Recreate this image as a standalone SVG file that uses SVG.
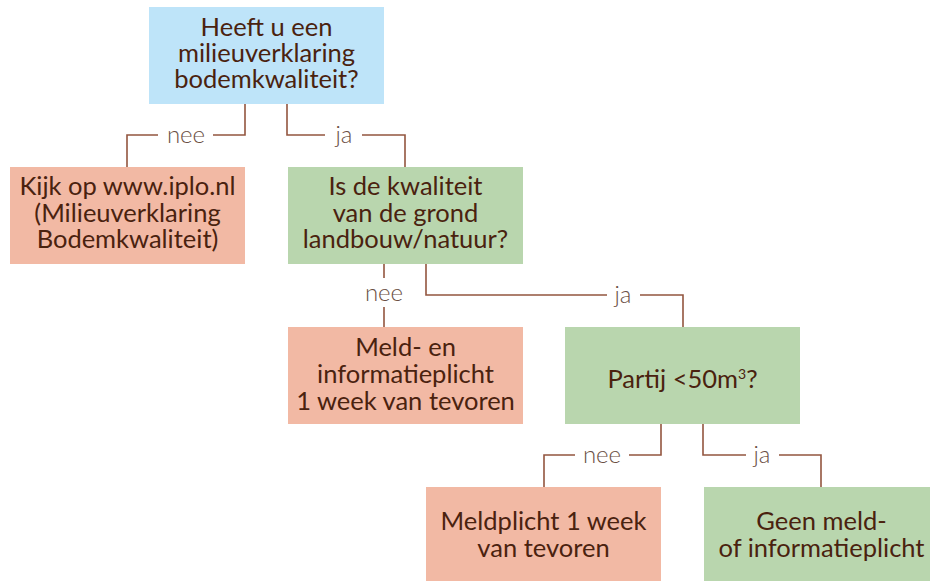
<svg xmlns="http://www.w3.org/2000/svg" width="930" height="581" viewBox="0 0 930 581">
<style>
.blue{fill:#bee4f9}
.red{fill:#f2b9a4}
.green{fill:#b9d6ae}
.t{font-family:Lato,"Open Sans",sans-serif;font-size:25.5px;fill:#4a220f;text-anchor:middle}
.l{font-family:Lato,"Open Sans",sans-serif;font-size:24px;fill:#6b4f44;text-anchor:middle;font-weight:300}
.c{fill:none;stroke:#93553f;stroke-width:1.6}
</style>
<rect width="930" height="581" fill="#ffffff"/>
<g id="connectors">
<path class="c" d="M245,104 V135 H213 M158,135 H127 V167"/>
<path class="c" d="M287,104 V135 H325 M362,135 H405 V167"/>
<path class="c" d="M384,264 V278 M384,307 V327"/>
<path class="c" d="M426,264 V295 H607 M640,295 H683 V327"/>
<path class="c" d="M661,424 V455 H629 M575,455 H544 V487"/>
<path class="c" d="M703,424 V455 H746 M779,455 H821 V487"/>
<text class="l" x="186" y="143">nee</text>
<text class="l" x="344" y="143">ja</text>
<text class="l" x="384" y="301">nee</text>
<text class="l" x="623" y="303">ja</text>
<text class="l" x="602" y="463">nee</text>
<text class="l" x="762" y="463">ja</text>
</g>
<g id="n1">
<rect class="blue" x="149" y="7" width="235" height="97"/>
<text class="t" x="266.5" y="36">Heeft u een</text>
<text class="t" x="266.5" y="62">milieuverklaring</text>
<text class="t" x="266.5" y="88">bodemkwaliteit?</text>
</g>
<g id="n2">
<rect class="red" x="10" y="167" width="235" height="97"/>
<text class="t" x="127.5" y="195">Kijk op www.iplo.nl</text>
<text class="t" x="127.5" y="222">(Milieuverklaring</text>
<text class="t" x="127.5" y="248">Bodemkwaliteit)</text>
</g>
<g id="n3">
<rect class="green" x="288" y="167" width="235" height="97"/>
<text class="t" x="405.5" y="195">Is de kwaliteit</text>
<text class="t" x="405.5" y="222">van de grond</text>
<text class="t" x="405.5" y="248">landbouw/natuur?</text>
</g>
<g id="n4">
<rect class="red" x="288" y="327" width="235" height="97"/>
<text class="t" x="405.5" y="356">Meld- en</text>
<text class="t" x="405.5" y="383">informatieplicht</text>
<text class="t" x="405.5" y="410">1 week van tevoren</text>
</g>
<g id="n5">
<rect class="green" x="565" y="327" width="235" height="97"/>
<text class="t" x="682.5" y="388">Partij &lt;50m<tspan font-size="14" dy="-9">3</tspan><tspan dy="9">?</tspan></text>
</g>
<g id="n6">
<rect class="red" x="426" y="487" width="235" height="94"/>
<text class="t" x="543.5" y="530">Meldplicht 1 week</text>
<text class="t" x="543.5" y="557">van tevoren</text>
</g>
<g id="n7">
<rect class="green" x="704" y="487" width="235" height="94"/>
<text class="t" x="821.5" y="530">Geen meld-</text>
<text class="t" x="821.5" y="557">of informatieplicht</text>
</g>
</svg>
